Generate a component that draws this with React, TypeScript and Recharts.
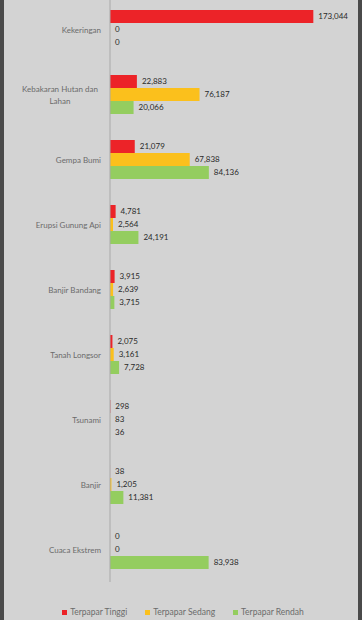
import { BarChart, Bar, XAxis, YAxis, LabelList } from 'recharts';

const categories = [
  'Kekeringan',
  'Kebakaran Hutan dan Lahan',
  'Gempa Bumi',
  'Erupsi Gunung Api',
  'Banjir Bandang',
  'Tanah Longsor',
  'Tsunami',
  'Banjir',
  'Cuaca Ekstrem',
];
const tinggi = [173044, 22883, 21079, 4781, 3915, 2075, 298, 38, 0];
const sedang = [0, 76187, 67838, 2564, 2639, 3161, 83, 1205, 0];
const rendah = [0, 20066, 84136, 24191, 3715, 7728, 36, 11381, 83938];

const series = [
  { key: 'tinggi', name: 'Terpapar Tinggi', color: '#ec2328' },
  { key: 'sedang', name: 'Terpapar Sedang', color: '#fbc01c' },
  { key: 'rendah', name: 'Terpapar Rendah', color: '#94cd5f' },
];

const data = categories.map((c, i) => ({
  name: c,
  tinggi: tinggi[i],
  sedang: sedang[i],
  rendah: rendah[i],
}));

const FONT = 'Lato, "Open Sans", sans-serif';

// Excel-like wrapping: long labels split into two lines centred on the first
function CategoryTick({ x, y, payload }: any) {
  const label: string = payload.value;
  if (label === 'Kebakaran Hutan dan Lahan') {
    return (
      <g>
        <text x={x - 41} y={y - 3} textAnchor="middle" fontSize={8} fill="#6b6b6b" fontFamily={FONT}>
          Kebakaran Hutan dan
        </text>
        <text x={x - 41} y={y + 9} textAnchor="middle" fontSize={8} fill="#6b6b6b" fontFamily={FONT}>
          Lahan
        </text>
      </g>
    );
  }
  return (
    <text x={x} y={y + 3} textAnchor="end" fontSize={8} fill="#6b6b6b" fontFamily={FONT}>
      {label}
    </text>
  );
}

export default function App() {
  return (
    <div
      style={{
        position: 'absolute',
        top: 0,
        left: 0,
        width: 362,
        height: 620,
        overflow: 'hidden',
        background: '#d3d3d3',
        boxSizing: 'border-box',
        borderLeft: '4px solid #4a4a4a',
        borderRight: '4px solid #4a4a4a',
      }}
    >
      <div style={{ position: 'absolute', top: -3, left: -4 }}>
        <BarChart
          width={362}
          height={588}
          data={data}
          layout="vertical"
          margin={{ top: 0, right: 17, bottom: 3, left: 0 }}
          barSize={13}
          barGap={0}
        >
          <XAxis type="number" domain={[0, 200000]} hide />
          <YAxis
            type="category"
            dataKey="name"
            width={110}
            tickLine={false}
            axisLine={{ stroke: '#a9a9a9' }}
            tick={<CategoryTick />}
            tickMargin={3}
            interval={0}
          />
          {series.map(s => (
            <Bar
              key={s.key}
              dataKey={s.key}
              name={s.name}
              fill={s.color}
              minPointSize={0.05}
              isAnimationActive={false}
            >
              <LabelList
                dataKey={s.key}
                position="right"
                offset={5}
                fontSize={8}
                fill="#2a2a2a"
                fontFamily={FONT}
                formatter={(v: any) => Number(v).toLocaleString('en-US')}
              />
            </Bar>
          ))}
        </BarChart>
      </div>
      <div
        style={{
          position: 'absolute',
          top: 607,
          left: 0,
          width: '100%',
          display: 'flex',
          justifyContent: 'center',
          gap: 18,
          fontFamily: FONT,
          fontSize: 8.5,
          color: '#6b6b6b',
          marginLeft: 2,
        }}
      >
        {series.map(s => (
          <span key={s.key} style={{ display: 'flex', alignItems: 'center' }}>
            <span style={{ width: 5, height: 5, background: s.color, marginRight: 3, display: 'inline-block' }} />
            {s.name}
          </span>
        ))}
      </div>
    </div>
  );
}
